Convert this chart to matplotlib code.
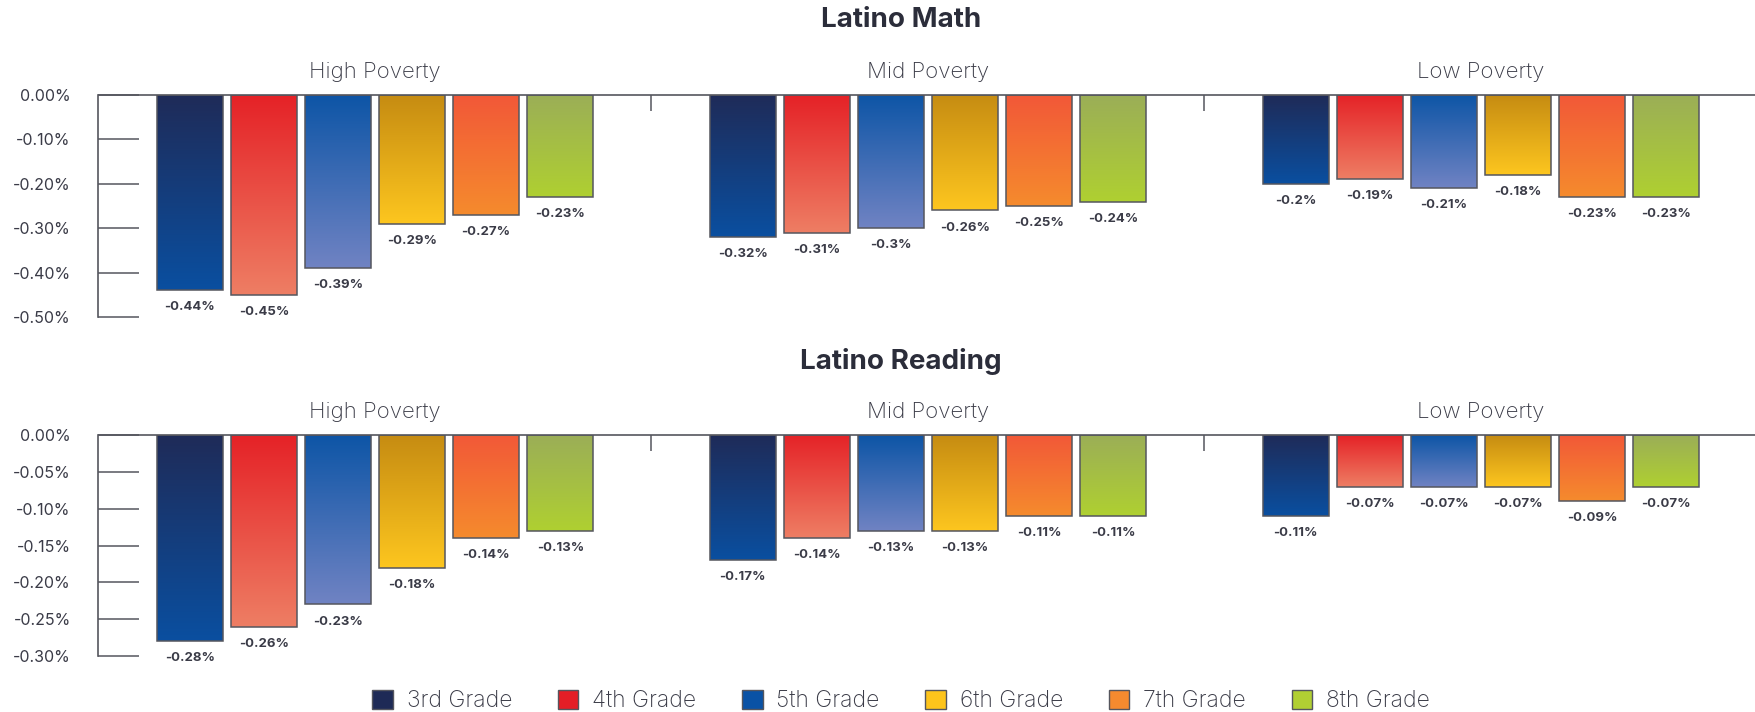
import matplotlib.pyplot as plt
import numpy as np
from matplotlib.colors import LinearSegmentedColormap
from matplotlib.patches import Patch
from matplotlib.ticker import FuncFormatter

plt.rcParams['font.family'] = ['Inter', 'DejaVu Sans']

# data
groups = ['High Poverty', 'Mid Poverty', 'Low Poverty']
grades = ['3rd Grade', '4th Grade', '5th Grade', '6th Grade', '7th Grade', '8th Grade']

math_high = [-0.44, -0.45, -0.39, -0.29, -0.27, -0.23]
math_mid = [-0.32, -0.31, -0.30, -0.26, -0.25, -0.24]
math_low = [-0.20, -0.19, -0.21, -0.18, -0.23, -0.23]

read_high = [-0.28, -0.26, -0.23, -0.18, -0.14, -0.13]
read_mid = [-0.17, -0.14, -0.13, -0.13, -0.11, -0.11]
read_low = [-0.11, -0.07, -0.07, -0.07, -0.09, -0.07]

math_ticks = [0.0, -0.1, -0.2, -0.3, -0.4, -0.5]
read_ticks = [0.0, -0.05, -0.10, -0.15, -0.20, -0.25, -0.30]

# gradient colours (top, bottom) and legend colours
grad_top = ['#1f2b58', '#e52227', '#0d55a6', '#c68c12', '#f25838', '#9bae57']
grad_bot = ['#0a4fa0', '#ee7e64', '#7083c3', '#fdc61f', '#f58b2d', '#afd031']
legend_cols = ['#1e2a56', '#e41e26', '#0a52a5', '#fdc41c', '#f58a2f', '#b1cf33']

TEXT = '#3a3b47'
LINE = '#55565e'

W, H = 1756, 712
fig = plt.figure(figsize=(W / 100, H / 100), dpi=100)


def box(left, top, right, bottom):
    return [left / W, 1 - bottom / H, (right - left) / W, (bottom - top) / H]


def draw_panel(ax, values, ticks, ylow):
    x = np.arange(len(groups))
    width = 0.119
    step = 0.134
    grad = np.linspace(0, 1, 256).reshape(-1, 1)
    for i in range(len(grades)):
        vals = [v[i] for v in values]
        bars = ax.bar(x + (i - 2.5) * step, vals, width, facecolor='none',
                      edgecolor=LINE, linewidth=1.1, zorder=3)
        cmap = LinearSegmentedColormap.from_list('g%d' % i, [grad_top[i], grad_bot[i]])
        for b, v in zip(bars, vals):
            ax.imshow(grad, cmap=cmap, aspect='auto', origin='upper',
                      extent=(b.get_x(), b.get_x() + b.get_width(), v, 0), zorder=2)
            ax.annotate(f'{v:g}%', (b.get_x() + b.get_width() / 2, v),
                        xytext=(0, -8), textcoords='offset points',
                        ha='center', va='top', fontsize=9.5, fontweight='bold',
                        color=TEXT)
    ax.set_xlim(-0.5, 2.5)
    ax.set_ylim(ylow, 0)

    for s in ['bottom', 'right']:
        ax.spines[s].set_visible(False)
    for s in ['top', 'left']:
        ax.spines[s].set_color(LINE)
        ax.spines[s].set_linewidth(1.2)

    ax.set_yticks(ticks)
    ax.yaxis.set_major_formatter(FuncFormatter(lambda v, p: f'{v:.2f}%'))
    ax.tick_params(axis='y', direction='in', length=29.5, width=1.1, color=LINE,
                   labelsize=11.5, labelcolor=TEXT, pad=20)

    ax.xaxis.tick_top()
    ax.set_xticks(x, groups)
    ax.tick_params(axis='x', which='major', length=0, pad=9, labelsize=16,
                   labelcolor=TEXT)
    for t in ax.get_xticklabels():
        t.set_fontweight('light')
    ax.set_xticks([0.5, 1.5], minor=True)
    ax.tick_params(axis='x', which='minor', direction='in', length=11.5, width=1.1,
                   color=LINE, top=True, bottom=False)


ax1 = fig.add_axes(box(98.5, 95, 1757.5, 317))
draw_panel(ax1, [math_high, math_mid, math_low], math_ticks, -0.5)

ax2 = fig.add_axes(box(98.5, 435, 1757.5, 656))
draw_panel(ax2, [read_high, read_mid, read_low], read_ticks, -0.3)

fig.text(901 / W, 1 - 20 / H, 'Latino Math', ha='center', va='center',
         fontsize=20, fontweight='bold', color='#2b2d3a')
fig.text(901 / W, 1 - 361 / H, 'Latino Reading', ha='center', va='center',
         fontsize=20, fontweight='bold', color='#2b2d3a')

handles = [Patch(facecolor=c, edgecolor=LINE, linewidth=1) for c in legend_cols]
leg = fig.legend(handles, grades, loc='center', bbox_to_anchor=(901 / W, 1 - 701 / H),
                 ncol=6, frameon=False, fontsize=16.5, labelcolor=TEXT,
                 handlelength=0.9, handleheight=0.9, handletextpad=0.6,
                 columnspacing=2.0)
for t in leg.get_texts():
    t.set_fontweight('light')

fig.savefig('out.png', dpi=100)
